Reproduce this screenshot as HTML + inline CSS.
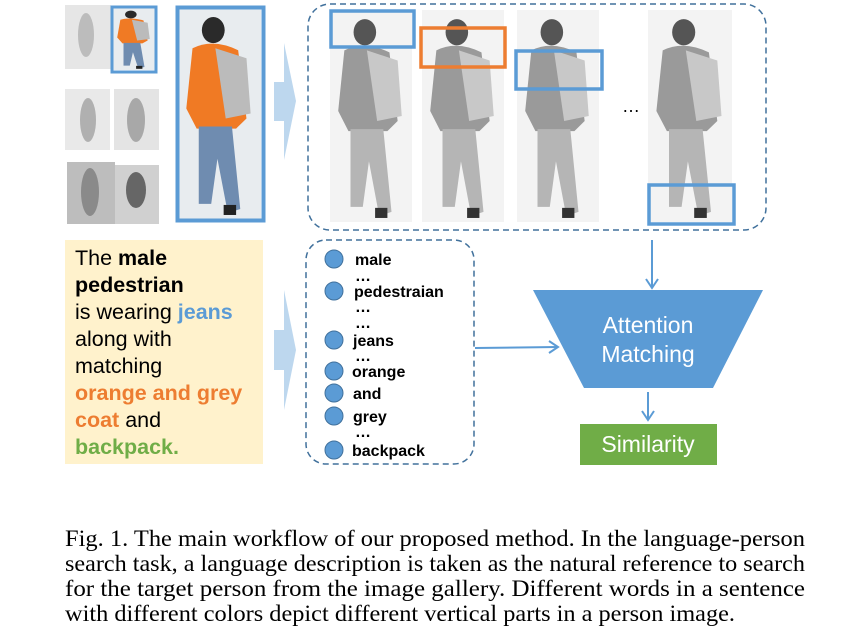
<!DOCTYPE html>
<html><head><meta charset="utf-8"><style>
body{margin:0;background:#fff;width:851px;height:641px;overflow:hidden}
svg{display:block}
</style></head><body>
<svg width="851" height="641" viewBox="0 0 851 641" xmlns="http://www.w3.org/2000/svg">
<defs>
<g id="p">
 <rect x="0" y="0" width="80" height="210" fill="#f3f3f3"/>
 <ellipse cx="34" cy="22" rx="11" ry="13" fill="#555"/>
 <path d="M14 40 Q34 30 58 42 L66 110 L56 120 L18 120 L8 100 Z" fill="#9a9a9a"/>
 <path d="M36 40 L66 50 L70 105 L46 110 Z" fill="#c8c8c8"/>
 <path d="M20 118 L52 118 L60 200 L48 204 L38 150 L32 195 L20 195 Z" fill="#b5b5b5"/>
 <rect x="44" y="196" width="12" height="10" fill="#333"/>
</g>
<g id="pc">
 <rect x="0" y="0" width="80" height="210" fill="#e8ecef"/>
 <ellipse cx="34" cy="22" rx="11" ry="13" fill="#2a2a2a"/>
 <path d="M14 40 Q34 30 58 42 L66 110 L56 120 L18 120 L8 100 Z" fill="#f07a24"/>
 <path d="M36 40 L66 50 L70 105 L46 110 Z" fill="#bbb"/>
 <path d="M20 118 L52 118 L60 200 L48 204 L38 150 L32 195 L20 195 Z" fill="#6f8cb0"/>
 <rect x="44" y="196" width="12" height="10" fill="#222"/>
</g>
</defs>
<rect x="65" y="5" width="46" height="64" fill="#e6e6e6"/>
<rect x="65" y="89" width="45" height="61" fill="#e9e9e9"/>
<rect x="114" y="89" width="45" height="61" fill="#e4e4e4"/>
<rect x="67" y="162" width="48" height="62" fill="#bdbdbd"/>
<rect x="115" y="165" width="44" height="59" fill="#d0d0d0"/>
<ellipse cx="88" cy="120" rx="8" ry="22" fill="#b0b0b0"/>
<ellipse cx="136" cy="120" rx="9" ry="22" fill="#a8a8a8"/>
<ellipse cx="90" cy="192" rx="9" ry="24" fill="#8a8a8a"/>
<ellipse cx="136" cy="190" rx="10" ry="18" fill="#666"/>
<ellipse cx="86" cy="35" rx="8" ry="22" fill="#bcbcbc"/>
<svg x="113" y="8" width="42" height="62" viewBox="0 0 80 210" preserveAspectRatio="none"><use href="#pc"/></svg>
<rect x="112" y="7" width="44" height="65" fill="none" stroke="#5b9bd5" stroke-width="3"/>
<svg x="178" y="8" width="83" height="211" viewBox="0 0 80 210" preserveAspectRatio="none"><use href="#pc"/></svg>
<rect x="177.5" y="7.5" width="86" height="213" fill="none" stroke="#5b9bd5" stroke-width="4"/>
<path d="M274 82 L284 82 L284 43 L296 101 L284 160 L284 121 L274 121 Z" fill="#bdd7ee"/>
<path d="M274 330 L284 330 L284 290 L296 350 L284 410 L284 370 L274 370 Z" fill="#bdd7ee"/>
<rect x="308" y="4" width="458" height="226" rx="22" fill="none" stroke="#41719c" stroke-width="1.5" stroke-dasharray="6,4"/>
<svg x="330" y="10" width="82" height="212" viewBox="0 0 80 210" preserveAspectRatio="none"><use href="#p"/></svg>
<svg x="422" y="10" width="82" height="212" viewBox="0 0 80 210" preserveAspectRatio="none"><use href="#p"/></svg>
<svg x="517" y="10" width="82" height="212" viewBox="0 0 80 210" preserveAspectRatio="none"><use href="#p"/></svg>
<svg x="648" y="10" width="84" height="212" viewBox="0 0 80 210" preserveAspectRatio="none"><use href="#p"/></svg>
<rect x="331" y="11" width="83" height="36" fill="none" stroke="#5b9bd5" stroke-width="3.5"/>
<rect x="421" y="28" width="84" height="39" fill="none" stroke="#ed7d31" stroke-width="3.5"/>
<rect x="516" y="51" width="86" height="38" fill="none" stroke="#5b9bd5" stroke-width="3.5"/>
<rect x="649" y="185" width="85" height="39" fill="none" stroke="#5b9bd5" stroke-width="3.5"/>
<text x="622" y="112" font-family="Liberation Sans, sans-serif" font-size="18" fill="#000">…</text>
<rect x="65" y="240" width="198" height="224" fill="#fff2cc"/>
<g font-family="Liberation Sans, sans-serif" font-size="21.5" fill="#000">
<text x="75" y="265">The <tspan font-weight="bold">male</tspan></text>
<text x="75" y="292" font-weight="bold">pedestrian</text>
<text x="75" y="319">is wearing <tspan font-weight="bold" fill="#5b9bd5">jeans</tspan></text>
<text x="75" y="346">along with</text>
<text x="75" y="373">matching</text>
<text x="75" y="400" font-weight="bold" fill="#ed7d31">orange and grey</text>
<text x="75" y="427"><tspan font-weight="bold" fill="#ed7d31">coat</tspan> and</text>
<text x="75" y="454" font-weight="bold" fill="#70ad47">backpack.</text>
</g>
<rect x="306" y="240" width="168" height="224" rx="20" fill="none" stroke="#41719c" stroke-width="1.5" stroke-dasharray="6,4"/>
<g fill="#5b9bd5" stroke="#41719c" stroke-width="1">
<circle cx="334" cy="259" r="9"/><circle cx="334" cy="291" r="9"/><circle cx="334" cy="340" r="9"/>
<circle cx="334" cy="371" r="9"/><circle cx="334" cy="393" r="9"/><circle cx="334" cy="416" r="9"/><circle cx="334" cy="450" r="9"/>
</g>
<g font-family="Liberation Sans, sans-serif" font-size="16" font-weight="bold" fill="#000">
<text x="355" y="265">male</text>
<text x="355" y="281">…</text>
<text x="354" y="297">pedestraian</text>
<text x="355" y="312">…</text>
<text x="355" y="328">…</text>
<text x="353" y="346">jeans</text>
<text x="355" y="361">…</text>
<text x="352" y="377">orange</text>
<text x="353" y="399">and</text>
<text x="353" y="422">grey</text>
<text x="355" y="437">…</text>
<text x="352" y="456">backpack</text>
</g>
<g stroke="#5b9bd5" stroke-width="2" fill="none">
<path d="M475 348 L558 347"/><path d="M549 341 L558 347 L549 353"/>
<path d="M652 240 L652 288"/><path d="M646 279 L652 288 L658 279"/>
<path d="M648 392 L648 420"/><path d="M642 411 L648 420 L654 411"/>
</g>
<path d="M533 290 L763 290 L713 388 L584 388 Z" fill="#5b9bd5"/>
<g font-family="Liberation Sans, sans-serif" font-size="23" fill="#fff" text-anchor="middle">
<text x="648" y="333">Attention</text>
<text x="648" y="362">Matching</text>
</g>
<rect x="580" y="424" width="137" height="41" fill="#70ad47"/>
<text x="648" y="452" font-family="Liberation Sans, sans-serif" font-size="23" fill="#fff" text-anchor="middle">Similarity</text>
<g font-family="Liberation Serif, serif" font-size="23" fill="#000">
<text x="65" y="546" textLength="740" lengthAdjust="spacingAndGlyphs">Fig. 1.  The main workflow of our proposed method. In the language-person</text>
<text x="65" y="571" textLength="740" lengthAdjust="spacingAndGlyphs">search task, a language description is taken as the natural reference to search</text>
<text x="65" y="596" textLength="740" lengthAdjust="spacingAndGlyphs">for the target person from the image gallery. Different words in a sentence</text>
<text x="65" y="621" textLength="670" lengthAdjust="spacingAndGlyphs">with different colors depict different vertical parts in a person image.</text>
</g>
</svg>
</body></html>
